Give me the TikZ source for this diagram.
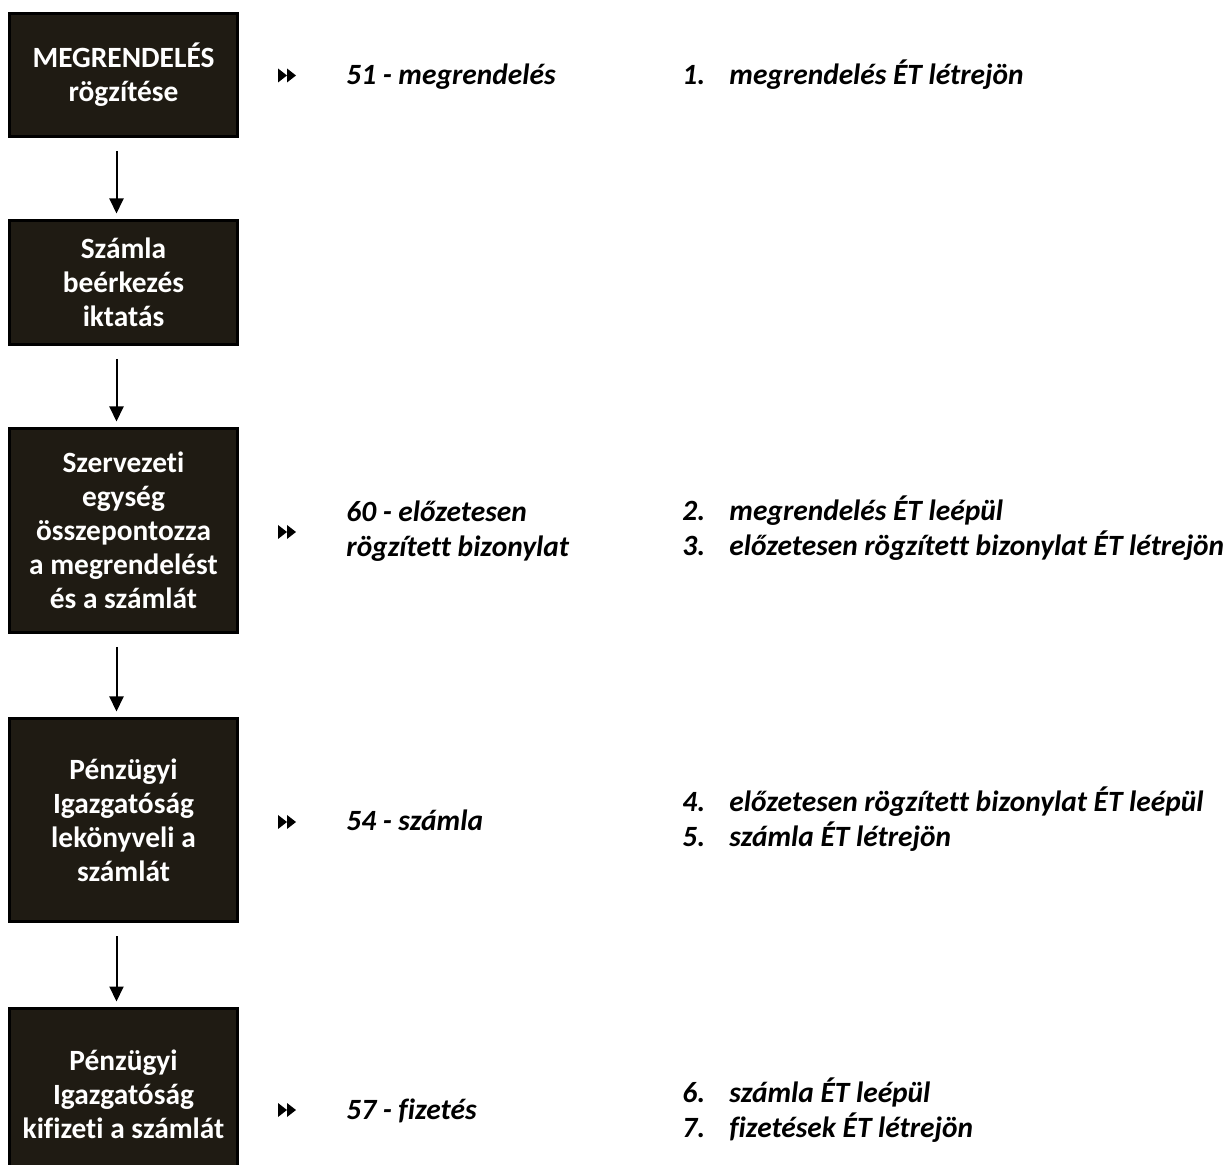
\documentclass[tikz,border=0pt]{standalone}
\usepackage{fontspec}
\setmainfont{Carlito}[Ligatures=CommonOff]
\usetikzlibrary{arrows.meta}
\definecolor{boxfill}{RGB}{31,27,19}

\begin{document}
\begin{tikzpicture}[x=0.5pt,y=-0.5pt,>={Triangle[width=7pt,length=7.5pt]},
                    ffwd/.pic={\fill (0,-7) -- (9,0) -- (0,7) -- cycle;
                               \fill (9,-7) -- (18,0) -- (9,7) -- cycle;}]
          \tikzstyle{stage}=[draw=black,line width=1.5pt,fill=boxfill,text=white,
                             minimum width=114pt,align=center,inner sep=0pt,
                             font=\fontsize{14.7}{17}\selectfont\bfseries]
          \tikzstyle{flow}=[->,line width=1pt,shorten <=6.5pt,shorten >=2.75pt]
          \tikzstyle{entry}=[anchor=base west,inner sep=0pt,
                             font=\fontsize{14.7}{17.5}\selectfont\bfseries\itshape]

          \useasboundingbox (0,0) rectangle (1227,1165);

          % the process steps
          \node[stage,minimum height=61.5pt] (order)   at (123.5,75)    {MEGRENDELÉS\\rögzítése};
          \node[stage,minimum height=62pt]   (invoice) at (123.5,282.5) {Számla\\beérkezés\\iktatás};
          \node[stage,minimum height=102pt]  (match)   at (123.5,530.5) {Szervezeti\\egység\\összepontozza\\a megrendelést\\és a számlát};
          \node[stage,minimum height=101.5pt] (book)   at (123.5,820)   {Pénzügyi\\Igazgatóság\\lekönyveli a\\számlát};
          \node[stage,minimum height=85.5pt] (pay)     at (123.5,1094)  {Pénzügyi\\Igazgatóság\\kifizeti a számlát};

          \draw[flow] ([xshift=-3.5pt]order.south)   -- ([xshift=-3.5pt]invoice.north);
          \draw[flow] ([xshift=-3.5pt]invoice.south) -- ([xshift=-3.5pt]match.north);
          \draw[flow] ([xshift=-3.5pt]match.south)   -- ([xshift=-3.5pt]book.north);
          \draw[flow] ([xshift=-3.5pt]book.south)    -- ([xshift=-3.5pt]pay.north);

          % document types
          \pic at (278,75.5) {ffwd};
          \pic at (278,532)  {ffwd};
          \pic at (278,822)  {ffwd};
          \pic at (278,1110) {ffwd};
          \node[entry] (doc51)  at (346,85)   {51 - megrendelés};
          \node[entry] (doc60a) at (346,522)  {60 - előzetesen};
          \node[entry] (doc60b) at (346,557)  {rögzített bizonylat};
          \node[entry] (doc54)  at (346,831)  {54 - számla};
          \node[entry] (doc57)  at (346,1119) {57 - fizetés};

          % what happens to the records
          \node[entry] (n1) at (682,85)   {1.};
          \node[entry] (t1) at (729,85)   {megrendelés ÉT létrejön};
          \node[entry] (n2) at (682,521)  {2.};
          \node[entry] (t2) at (729,521)  {megrendelés ÉT leépül};
          \node[entry] (n3) at (682,556)  {3.};
          \node[entry] (t3) at (729,556)  {előzetesen rögzített bizonylat ÉT létrejön};
          \node[entry] (n4) at (682,812)  {4.};
          \node[entry] (t4) at (729,812)  {előzetesen rögzített bizonylat ÉT leépül};
          \node[entry] (n5) at (682,847)  {5.};
          \node[entry] (t5) at (729,847)  {számla ÉT létrejön};
          \node[entry] (n6) at (682,1102) {6.};
          \node[entry] (t6) at (729,1102) {számla ÉT leépül};
          \node[entry] (n7) at (682,1137) {7.};
          \node[entry] (t7) at (729,1137) {fizetések ÉT létrejön};
        \end{tikzpicture}
\end{document}
